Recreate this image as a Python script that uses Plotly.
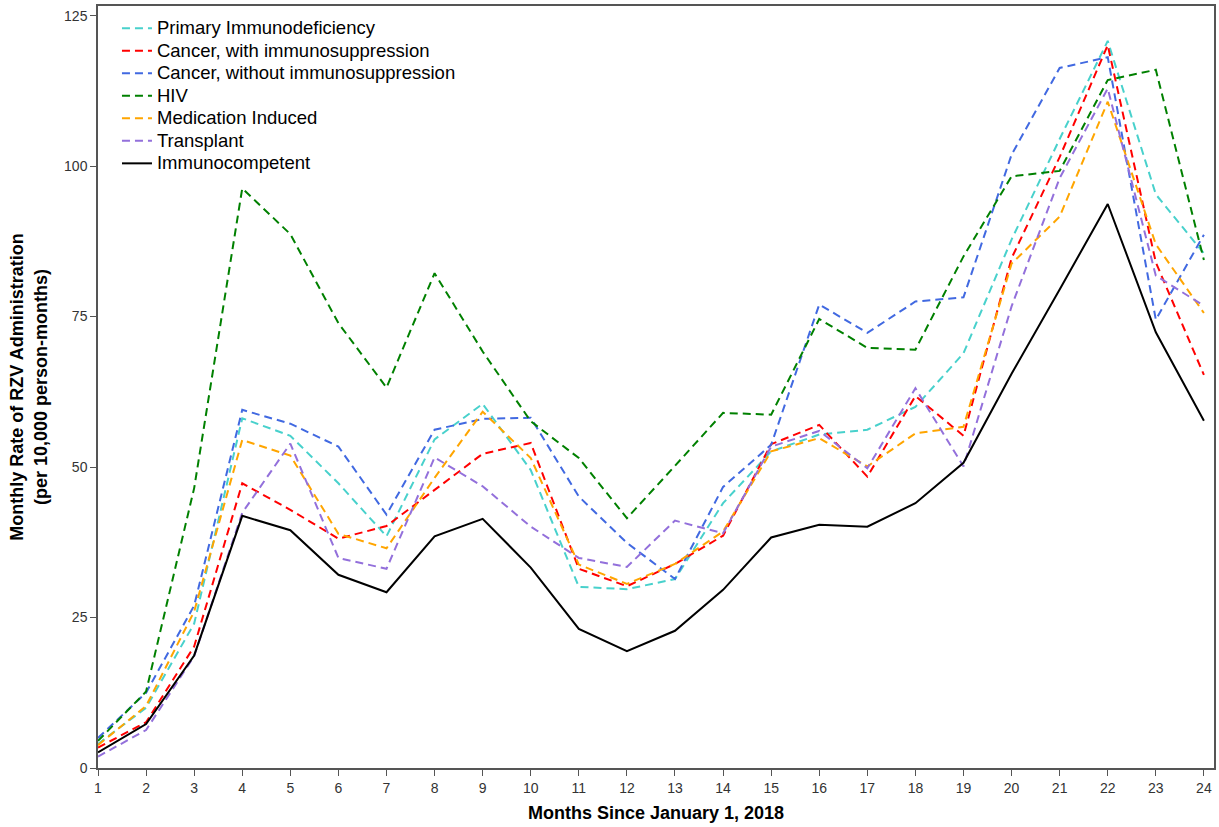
import plotly.graph_objects as go

# Month index since January 1, 2018
months = list(range(1, 25))

# Monthly RZV administration rate per 10,000 person-months, by group
primary_immunodeficiency = [4.0, 10.0, 24.0, 58.1, 55.2, 47.3, 38.5, 54.6, 60.5, 49.5,
                            30.1, 29.7, 31.4, 44.0, 52.6, 55.4, 56.2, 60.0, 68.9, 87.8,
                            104.5, 120.8, 95.3, 85.5]
cancer_with_immunosuppression = [3.4, 7.6, 20.2, 47.3, 42.9, 38.1, 40.2, 46.2, 52.2, 54.0,
                                 33.1, 30.2, 33.9, 38.6, 53.8, 57.0, 48.4, 61.8, 55.2, 84.7,
                                 101.5, 120.1, 84.0, 65.3]
cancer_without_immunosuppression = [5.0, 12.5, 27.0, 59.5, 57.2, 53.4, 42.1, 56.2, 58.0, 58.2,
                                    45.1, 37.4, 31.4, 46.7, 53.7, 77.0, 72.3, 77.5, 78.2, 101.9,
                                    116.3, 118.1, 74.5, 88.6]
hiv = [4.5, 12.7, 46.5, 96.3, 88.7, 73.9, 63.2, 82.2, 69.2, 57.6,
       51.5, 41.5, 50.2, 59.0, 58.7, 74.6, 69.8, 69.5, 85.0, 98.3,
       99.2, 114.3, 116.0, 84.4]
medication_induced = [3.8, 10.3, 26.0, 54.5, 51.9, 38.9, 36.5, 48.2, 59.2, 51.5,
                      33.8, 30.6, 33.9, 39.3, 52.6, 54.8, 50.1, 55.6, 56.7, 83.8,
                      91.6, 110.7, 87.0, 75.6]
transplant = [1.9, 6.3, 18.6, 42.4, 53.9, 34.9, 33.1, 51.6, 46.8, 40.1,
              34.9, 33.4, 41.1, 39.0, 53.4, 56.0, 49.8, 63.1, 50.1, 76.7,
              98.0, 112.9, 81.8, 76.8]
immunocompetent = [2.6, 7.3, 18.7, 41.9, 39.5, 32.1, 29.2, 38.5, 41.4, 33.3,
                   23.1, 19.4, 22.8, 29.6, 38.3, 40.4, 40.1, 44.0, 50.7, 65.5,
                   79.5, 93.7, 72.4, 57.7]

series = [
    ("Primary Immunodeficiency", primary_immunodeficiency, "#48D1CC", "dash"),
    ("Cancer, with immunosuppression", cancer_with_immunosuppression, "#FF0000", "dash"),
    ("Cancer, without immunosuppression", cancer_without_immunosuppression, "#4169E1", "dash"),
    ("HIV", hiv, "#008000", "dash"),
    ("Medication Induced", medication_induced, "#FFA500", "dash"),
    ("Transplant", transplant, "#9370DB", "dash"),
    ("Immunocompetent", immunocompetent, "#000000", "solid"),
]

fig = go.Figure()
for name, values, color, dash in series:
    fig.add_trace(go.Scatter(
        x=months, y=values, mode="lines",
        # larger label text inside a compact legend row
        name=f'<span style="font-size:18.5px">{name}</span>',
        hovertemplate=f"{name}<br>Month %{{x}}: %{{y}}<extra></extra>",
        line=dict(color=color, width=2, dash="8px,5px" if dash == "dash" else "solid"),
    ))

sans = "Liberation Sans, Arial, sans-serif"
axis_font = dict(family=sans, size=14, color="#333333")
title_font = dict(family=sans, size=18, color="#000000")

fig.update_layout(
    width=1219, height=827,
    margin=dict(l=98, r=3, t=6, b=59),
    paper_bgcolor="white", plot_bgcolor="white",
    font=dict(family=sans),
    legend=dict(
        x=0.017, y=0.992, xanchor="left", yanchor="top",
        bgcolor="rgba(0,0,0,0)", borderwidth=0,
        font=dict(family=sans, size=15, color="#000000"),
        tracegroupgap=0, itemwidth=30,
    ),
    xaxis=dict(
        range=[1, 24.21], tickmode="array", tickvals=months,
        ticktext=[str(m) for m in months],
        ticks="outside", ticklen=6, tickcolor="#555555",
        showline=True, linecolor="#555555", linewidth=1.5, mirror=True,
        showgrid=False, zeroline=False, tickfont=axis_font,
        title=dict(text="<b>Months Since January 1, 2018</b>", font=title_font, standoff=12),
    ),
    yaxis=dict(
        range=[0, 126.6], tickmode="array", tickvals=[0, 25, 50, 75, 100, 125],
        ticks="outside", ticklen=6, tickcolor="#555555",
        showline=True, linecolor="#555555", linewidth=1.5, mirror=True,
        showgrid=False, zeroline=False, tickfont=axis_font,
        title=dict(text="<b>Monthly Rate of RZV Administration<br>(per 10,000 person-months)</b>",
                   font=title_font, standoff=12),
    ),
)

fig.write_html("out.html")
